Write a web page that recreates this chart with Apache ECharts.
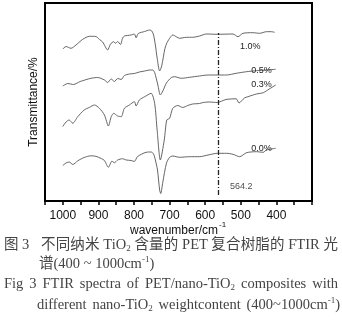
<!DOCTYPE html>
<html>
<head>
<meta charset="utf-8">
<script src="https://cdn.jsdelivr.net/npm/echarts@6/dist/echarts.min.js"></script>
<style>
html,body{margin:0;padding:0;background:#fff;}
#wrap{position:relative;width:342px;height:331px;overflow:hidden;}
#chart{position:absolute;left:0;top:0;width:342px;height:331px;}
.cap{position:absolute;font-family:'Liberation Serif','Noto Sans CJK SC',serif;font-size:14.5px;line-height:20px;height:20px;color:#444;white-space:nowrap;}
.just{text-align:justify;text-align-last:justify;}
.cap sub{font-size:9px;vertical-align:-2px;line-height:0;}
.cap sup{font-size:9px;vertical-align:6px;line-height:0;}
</style>
</head>
<body>
<div id="wrap">
<div id="chart"></div>
<div class="cap" style="left:4px;top:234px;">图 3</div>
<div class="cap just" data-w="297" style="left:41px;top:234px;width:297px;">不同纳米 TiO<sub>2</sub> 含量的 PET 复合树脂的 FTIR 光</div>
<div class="cap" style="left:39px;top:253px;">谱(400 ~ 1000cm<sup>-1</sup>)</div>
<div class="cap just" data-w="334" style="left:4px;top:273px;width:334px;">Fig 3 FTIR spectra of PET/nano-TiO<sub>2</sub> composites with</div>
<div class="cap just" data-w="303" style="left:37px;top:294px;width:303px;">different nano-TiO<sub>2</sub> weightcontent (400~1000cm<sup>-1</sup>)</div>
</div>
<script>
// Tick labels (wavenumber, cm-1)
const xTicks = [1000, 900, 800, 700, 600, 500, 400];
// Series names
const names = ['1.0%', '0.5%', '0.3%', '0.0%'];
// Spectra: [wavenumber, transmittance (arbitrary, offset)]
const s10 = [[1000,152],[991,154.5],[977,152.7],[963,156],[944,161.7],[925,164.7],[907,164.5],[897,161.5],[888,159],[874,151],[866,157],[857,159.3],[852,157.7],[846,159.5],[838,156.5],[832,163],[827,165],[808,166],[799,167],[794,163.2],[788,167.5],[770,169.5],[756,171],[750,170],[745,166],[740,156],[735,143],[728,130],[723,134],[719,141],[714,151],[709,157],[700,162.7],[691,166],[680,164],[672,162.7],[653,163.7],[635,163.7],[616,165],[597,167],[566,166.7],[522,167],[508,164.3],[494,167.7],[466,168.3],[447,167.7],[428,169.3],[414,169.3],[405,168.7]];
const s05 = [[1000,115],[986,117.5],[970,116.5],[951,119.5],[921,122.7],[902,123.5],[883,121],[874,118.5],[864,122],[855,119.5],[846,122.5],[836,121.5],[827,125.5],[813,127],[799,127.5],[785,129],[770,130],[756,131],[747,131],[742,128.5],[733,116],[726,106],[719,110],[709,118],[695,123.5],[686,124.3],[667,122.7],[644,123.7],[616,125],[592,126],[566,126],[540,126],[513,127.7],[484,129.3],[456,130.3],[428,131],[402,131.7]];
const s03 = [[1000,74.5],[991,79],[982,81],[972,77.7],[958,84.3],[940,91],[925,93.7],[911,96],[897,92.7],[883,86],[872,75],[864,84.3],[857,87.7],[846,85],[836,84.3],[827,92.7],[813,96],[799,99.3],[794,95],[785,101],[770,104.3],[752,107.7],[742,97.7],[735,71],[726,41],[715,61],[708,81],[700,82.7],[691,92.7],[677,95.5],[663,93.5],[649,95.5],[635,97],[616,97.5],[606,98.5],[588,99],[566,98.5],[542,101.5],[513,102.2],[505,98],[490,103],[480,104.3],[456,107],[437,108.3],[420,112],[402,116]];
const s00 = [[1000,35.5],[991,38],[982,39],[972,36.5],[958,40.2],[940,43.5],[921,45.2],[907,44.7],[892,42.5],[883,40.5],[872,33.7],[862,39.8],[855,38.3],[846,41],[832,42.3],[822,41],[808,40.5],[799,39.5],[790,44.5],[766,48.7],[752,49],[745,47],[740,41],[734,31],[728,11],[725,7.5],[719,19],[709,37.7],[700,43.7],[691,45],[672,43.7],[644,44.3],[616,44.3],[592,46],[566,47.7],[540,47.7],[522,46.7],[503,44.3],[484,48.3],[456,49.3],[437,48.7],[428,51],[402,52.7]];
// Reference wavenumber marker
const markWn = 564.2;
const markRange = [6, 168];
const markLabelY = [14];

// shrink caption lines only if their natural width exceeds the box
document.querySelectorAll('.cap.just').forEach(el => {
  const w = +el.dataset.w;
  let fs = 14.5;
  const probe = document.createElement('span');
  probe.innerHTML = el.innerHTML;
  probe.style.cssText = 'position:absolute;visibility:hidden;white-space:nowrap;font-family:inherit;';
  el.appendChild(probe);
  while (probe.getBoundingClientRect().width > w - 2 && fs > 9) {
    fs -= 0.25; el.style.fontSize = fs + 'px';
  }
  el.removeChild(probe);
});

const font = 'Liberation Sans';
const chart = echarts.init(document.getElementById('chart'), null, {renderer: 'canvas'});
const curves = [s10, s05, s03, s00];
const labelOffsets = [[-10, 14], [0, 1], [0, 0], [0, 0]];
const series = curves.map((d, i) => ({
  name: names[i], type: 'line', data: d, symbol: 'none', smooth: 0.25,
  lineStyle: {color: '#555', width: 0.9},
  endLabel: {show: true, formatter: names[i], fontSize: 9, color: '#222', fontFamily: font, distance: 4, offset: labelOffsets[i]},
  animation: false, silent: true
}));
series[3].markLine = {
  silent: true, symbol: 'none', animation: false,
  lineStyle: {color: '#222', width: 1.3, type: [5, 2, 1, 2]},
  label: {show: false},
  data: [[{coord: [markWn, markRange[0]]}, {coord: [markWn, markRange[1]]}]]
};
series.push({
  type: 'scatter', data: [[markWn, markLabelY[0]]], symbolSize: 0, animation: false, silent: true,
  label: {show: true, formatter: String(markWn), position: 'right', distance: 12, fontSize: 9, color: '#222', fontFamily: font}
});

const gridBox = {left: 45, right: 30, top: 3, bottom: 130};
const titleY = 331 - gridBox.bottom + 30;
const titleRight = 218;
chart.setOption({
  animation: false,
  grid: Object.assign({show: true, borderColor: '#000', borderWidth: 2}, gridBox),
  xAxis: {
    type: 'value', min: 300, max: 1050, interval: 50, inverse: true,
    axisLine: {show: true, lineStyle: {color: '#000', width: 2}},
    axisTick: {show: true, length: 4, lineStyle: {color: '#000', width: 1.5}},
    axisLabel: {formatter: v => xTicks.includes(v) ? String(v) : '', fontSize: 12, color: '#111', margin: 9, fontFamily: font, hideOverlap: false},
    splitLine: {show: false}
  },
  yAxis: {
    type: 'value', min: 0, max: 198,
    axisLine: {show: true, lineStyle: {color: '#000', width: 2}},
    axisTick: {show: false}, axisLabel: {show: false}, splitLine: {show: false},
    name: 'Transmittance/%', nameLocation: 'middle', nameGap: 5,
    nameTextStyle: {fontSize: 12, color: '#111', fontFamily: font}
  },
  graphic: [{
    type: 'text', silent: true, x: titleRight, y: titleY,
    style: {text: 'wavenumber/cm', align: 'right', verticalAlign: 'middle', fontSize: 12, fill: '#111', fontFamily: font}
  }, {
    type: 'text', silent: true, x: titleRight + 1, y: titleY - 6,
    style: {text: '-1', align: 'left', verticalAlign: 'middle', fontSize: 8, fill: '#111', fontFamily: font}
  }],
  series: series
});
</script>
</body>
</html>
